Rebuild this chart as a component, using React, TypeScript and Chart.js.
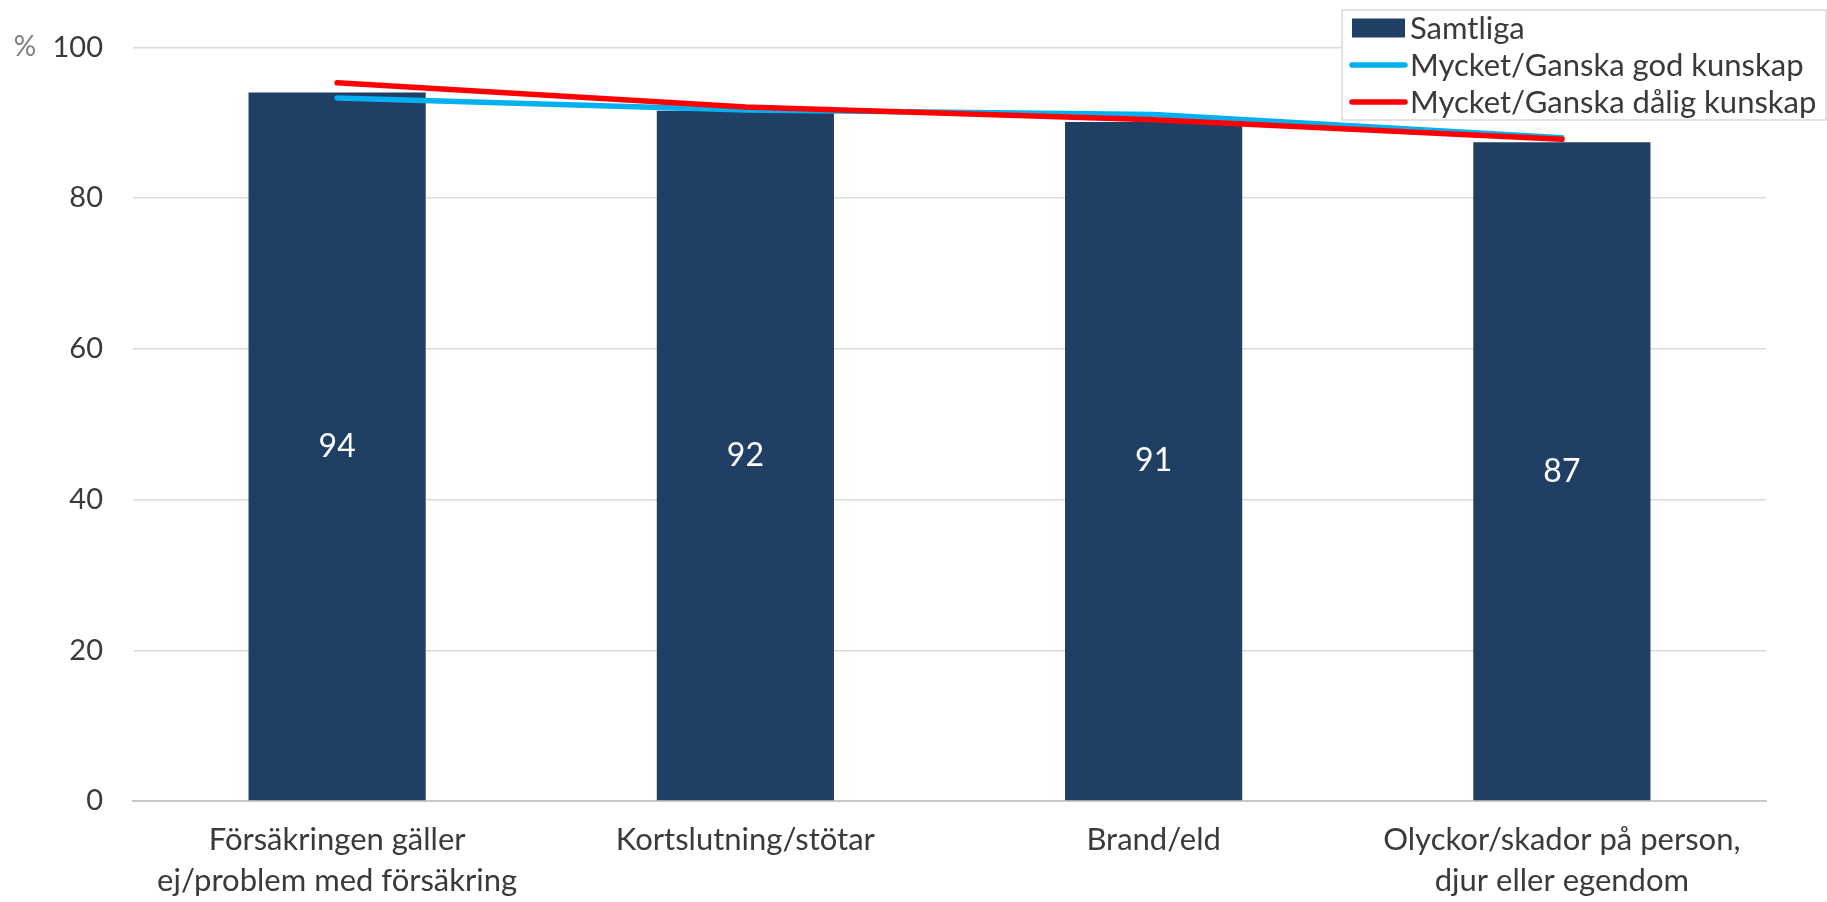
import React, { useEffect, useRef } from "react";
import { Chart, registerables } from "chart.js";

Chart.register(...registerables);

const categories: (string | string[])[] = [
  ["Försäkringen gäller", "ej/problem med försäkring"],
  "Kortslutning/stötar",
  "Brand/eld",
  ["Olyckor/skador på person,", "djur eller egendom"],
];
const samtliga = [94.0, 91.6, 90.1, 87.4];
const samtligaLabels = ["94", "92", "91", "87"];
const godKunskap = [93.3, 91.7, 91.1, 88.0];
const daligKunskap = [95.3, 92.1, 90.4, 87.8];
const yTicks = [0, 20, 40, 60, 80, 100];

const FONT = "Lato, 'Noto Sans', sans-serif";

const barLabelPlugin = {
  id: "barLabels",
  afterDatasetsDraw(chart: any) {
    const meta = chart.getDatasetMeta(0);
    const ctx = chart.ctx;
    ctx.save();
    ctx.fillStyle = "#ffffff";
    ctx.font = `32px ${FONT}`;
    ctx.textAlign = "center";
    ctx.textBaseline = "middle";
    meta.data.forEach((bar: any, i: number) => {
      const { x, y, base } = bar.getProps(["x", "y", "base"], true);
      ctx.fillText(samtligaLabels[i], x, (y + base) / 2);
    });
    ctx.restore();
  },
};

const extrasPlugin = {
  id: "extras",
  afterDraw(chart: any) {
    const ctx = chart.ctx;
    const yScale = chart.scales.y;
    ctx.save();
    // percent unit
    ctx.fillStyle = "#7f7f7f";
    ctx.font = `28px ${FONT}`;
    ctx.textAlign = "center";
    ctx.textBaseline = "middle";
    ctx.fillText("%", 25, yScale.getPixelForValue(100));

    // legend
    const left = 1342, top = 10, right = 1826, bottom = 120;
    ctx.fillStyle = "#ffffff";
    ctx.fillRect(left, top, right - left, bottom - top);
    ctx.strokeStyle = "#d9d9d9";
    ctx.lineWidth = 1.5;
    ctx.strokeRect(left, top, right - left, bottom - top);
    const rows = [28, 65, 102];
    chart.data.datasets.forEach((ds: any, i: number) => {
      const cy = rows[i];
      if (ds.type === "line") {
        ctx.strokeStyle = ds.borderColor;
        ctx.lineWidth = 5.5;
        ctx.lineCap = "round";
        ctx.beginPath();
        ctx.moveTo(1352, cy);
        ctx.lineTo(1405, cy);
        ctx.stroke();
      } else {
        ctx.fillStyle = ds.backgroundColor;
        ctx.fillRect(1352, cy - 9.5, 53, 19);
      }
      ctx.fillStyle = "#3a3a3a";
      ctx.font = `31px ${FONT}`;
      ctx.textAlign = "left";
      ctx.textBaseline = "middle";
      ctx.fillText(ds.label, 1410, cy + 1);
    });
    ctx.restore();
  },
};

export default function App() {
  const ref = useRef<HTMLCanvasElement>(null);
  useEffect(() => {
    if (!ref.current) return;
    const chart = new Chart(ref.current, {
      type: "bar",
      data: {
        labels: categories,
        datasets: [
          {
            type: "bar",
            label: "Samtliga",
            data: samtliga,
            backgroundColor: "#1F4064",
            categoryPercentage: 0.434,
            barPercentage: 1,
            order: 3,
          },
          {
            type: "line",
            label: "Mycket/Ganska god kunskap",
            data: godKunskap,
            borderColor: "#00B0F0",
            backgroundColor: "#00B0F0",
            borderWidth: 5.5,
            pointRadius: 0,
            tension: 0,
            borderCapStyle: "round",
            borderJoinStyle: "round",
            order: 2,
          },
          {
            type: "line",
            label: "Mycket/Ganska dålig kunskap",
            data: daligKunskap,
            borderColor: "#FF0000",
            backgroundColor: "#FF0000",
            borderWidth: 5.5,
            pointRadius: 0,
            tension: 0,
            borderCapStyle: "round",
            borderJoinStyle: "round",
            order: 1,
          },
        ] as any,
      },
      options: {
        responsive: false,
        animation: false,
        layout: { padding: { top: 45, right: 61, left: 0, bottom: 0 } },
        plugins: {
          legend: { display: false },
          tooltip: { enabled: false },
        },
        scales: {
          x: {
            grid: { display: false, drawTicks: false },
            border: { display: true, color: "#c8c8c8", width: 2 },
            ticks: {
              color: "#3a3a3a",
              padding: 19,
              maxRotation: 0,
              autoSkip: false,
              font: { family: FONT, size: 31, lineHeight: 1.32 },
            },
            afterFit(scale: any) {
              scale.height = 101;
            },
          },
          y: {
            min: 0,
            max: 100,
            afterBuildTicks(scale: any) {
              scale.ticks = yTicks.map((v) => ({ value: v }));
            },
            grid: {
              color: "#d9d9d9",
              lineWidth: 1.5,
              drawTicks: false,
            },
            border: { display: false },
            ticks: {
              color: "#3a3a3a",
              padding: 30,
              font: { family: FONT, size: 29 },
            },
            afterFit(scale: any) {
              scale.width = 133;
            },
          },
        },
      },
      plugins: [barLabelPlugin, extrasPlugin],
    });
    return () => chart.destroy();
  }, []);
  return (
    <div style={{ position: "fixed", left: 0, top: 0, width: 1827, height: 902, background: "#fff" }}>
      <canvas ref={ref} width={1827} height={902} style={{ width: 1827, height: 902, display: "block" }} />
    </div>
  );
}
